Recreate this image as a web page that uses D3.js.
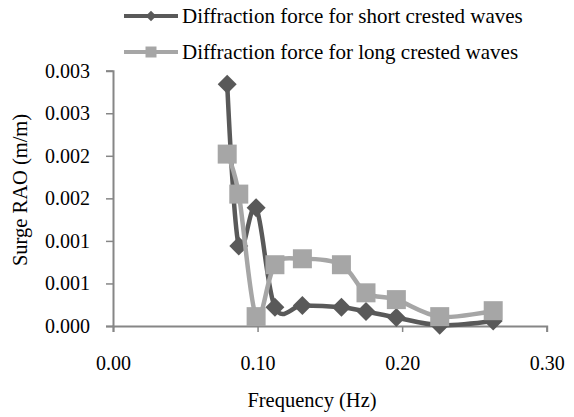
<!DOCTYPE html>
<html>
<head>
<meta charset="utf-8">
<script src="https://cdn.jsdelivr.net/npm/d3@7"></script>
<style>
  body { margin: 0; background: #fff; }
</style>
</head>
<body>
<svg id="chart"></svg>
<script>
// values
const freq = [0.079, 0.087, 0.099, 0.112, 0.131, 0.158, 0.175, 0.196, 0.226, 0.263];
const shortCrested = [0.00284, 0.00094, 0.00139, 0.00022, 0.00024, 0.00022, 0.00017, 0.00010, 0.00001, 0.00006];
const longCrested  = [0.00202, 0.00155, 0.00011, 0.00072, 0.00079, 0.00072, 0.00039, 0.00031, 0.00011, 0.00018];

const seriesNames = ["Diffraction force for short crested waves", "Diffraction force for long crested waves"];

const xTicks = [0, 0.1, 0.2, 0.3];
const xTickLabels = ["0.00", "0.10", "0.20", "0.30"];
const yTicks = [0, 0.0005, 0.001, 0.0015, 0.002, 0.0025, 0.003];
// excel rounds the half-steps up, so labels repeat
const yTickLabels = ["0.000", "0.001", "0.001", "0.002", "0.002", "0.003", "0.003"];

const FONT = '"Liberation Serif", "Times New Roman", serif';

const w = 574, h = 417;
const $svg = d3.select('#chart').attr('width', w).attr('height', h);

// plot area
const plot = { left: 113, right: 546.7, top: 70.7, bottom: 326 };

const x = d3.scaleLinear().domain([0, 0.3]).range([plot.left, plot.right]);
const y = d3.scaleLinear().domain([0, 0.003]).range([plot.bottom, plot.top]);

const axisColor = '#868686';
const darkGrey = '#595959';
const lightGrey = '#a6a6a6';

// x axis
const xAxis = $svg.append('g')
  .attr('transform', `translate(0,${plot.bottom})`)
  .call(d3.axisBottom(x).tickValues(xTicks).tickFormat((d, i) => xTickLabels[i]).tickSize(6).tickPadding(24));
xAxis.select('.domain').attr('stroke', axisColor).attr('stroke-width', 2);
xAxis.selectAll('.tick line').attr('stroke', axisColor).attr('stroke-width', 1.5);
xAxis.selectAll('.tick text').style('font-family', FONT).style('font-size', '20px').attr('fill', '#000');

// y axis
const yAxis = $svg.append('g')
  .attr('transform', `translate(${plot.left},0)`)
  .call(d3.axisLeft(y).tickValues(yTicks).tickFormat((d, i) => yTickLabels[i]).tickSize(7).tickPadding(16));
yAxis.select('.domain').attr('stroke', axisColor).attr('stroke-width', 2);
yAxis.selectAll('.tick line').attr('stroke', axisColor).attr('stroke-width', 1.5);
yAxis.selectAll('.tick text').style('font-family', FONT).style('font-size', '20px').attr('fill', '#000');

// axis titles
$svg.append('text')
  .attr('x', 312).attr('y', 407)
  .attr('text-anchor', 'middle')
  .style('font-family', FONT)
  .style('font-size', '20.5px')
  .text('Frequency (Hz)');

$svg.append('text')
  .attr('transform', 'translate(27,190) rotate(-90)')
  .attr('text-anchor', 'middle')
  .style('font-family', FONT)
  .style('font-size', '20.5px')
  .text('Surge RAO (m/m)');

// smoothed lines like excel
const line = d3.line()
  .x(d => x(d[0]))
  .y(d => y(d[1]))
  .curve(d3.curveCardinal.tension(0));

const shortPts = freq.map((f, i) => [f, shortCrested[i]]);
const longPts = freq.map((f, i) => [f, longCrested[i]]);

const square = d3.symbol().type(d3.symbolSquare);

// short crested (dark, diamonds) drawn first
$svg.append('path')
  .attr('d', line(shortPts))
  .attr('fill', 'none')
  .attr('stroke', darkGrey)
  .attr('stroke-width', 4.5);

$svg.selectAll('.dia')
  .data(shortPts)
  .join('path')
  .attr('class', 'dia')
  .attr('transform', d => `translate(${x(d[0])},${y(d[1])}) rotate(45)`)
  .attr('d', square.size(180)())
  .attr('fill', darkGrey);

// long crested (light, squares) on top
$svg.append('path')
  .attr('d', line(longPts))
  .attr('fill', 'none')
  .attr('stroke', lightGrey)
  .attr('stroke-width', 4.5);

$svg.selectAll('.sq')
  .data(longPts)
  .join('path')
  .attr('class', 'sq')
  .attr('transform', d => `translate(${x(d[0])},${y(d[1])})`)
  .attr('d', square.size(361)())
  .attr('fill', lightGrey);

// legend
const legendY = [16, 52];
const legendColors = [darkGrey, lightGrey];
const legend = $svg.append('g');
seriesNames.forEach(function(name, i) {
  const g = legend.append('g').attr('transform', `translate(0,${legendY[i]})`);
  g.append('line')
    .attr('x1', 124).attr('x2', 178)
    .attr('stroke', legendColors[i])
    .attr('stroke-width', 4);
  g.append('path')
    .attr('transform', i === 0 ? 'translate(151,0) rotate(45)' : 'translate(151,0)')
    .attr('d', i === 0 ? square.size(55)() : square.size(121)())
    .attr('fill', legendColors[i]);
  g.append('text')
    .attr('x', 182).attr('y', 7)
    .style('font-family', FONT)
    .style('font-size', '21px')
    .text(name);
});
</script>
</body>
</html>
